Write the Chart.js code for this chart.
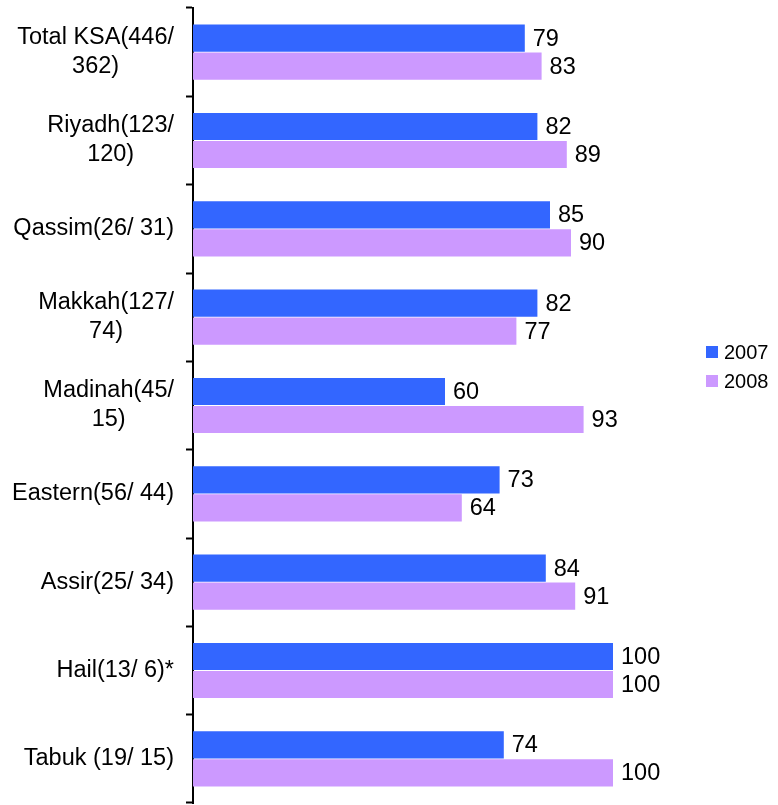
<!DOCTYPE html>
<html>
<head>
<meta charset="utf-8">
<script src="https://cdn.jsdelivr.net/npm/chart.js@4/dist/chart.umd.min.js"></script>
<style>
  html, body { margin: 0; padding: 0; background: #fff; }
  #wrap { width: 778px; height: 805px; }
</style>
</head>
<body>
<div id="wrap"><canvas id="chart" width="778" height="805"></canvas></div>
<script>
// Regions, with sample sizes (2007/ 2008) as two-line labels
const regions = [
    ['Total KSA(446/', '362)'],
    ['Riyadh(123/', '120)'],
    ['Qassim(26/ 31)'],
    ['Makkah(127/', '74)'],
    ['Madinah(45/', '15)'],
    ['Eastern(56/ 44)'],
    ['Assir(25/ 34)'],
    ['Hail(13/ 6)*'],
    ['Tabuk (19/ 15)']
];
const values2007 = [79, 82, 85, 82, 60, 73, 84, 100, 74];
const values2008 = [83, 89, 90, 77, 93, 64, 91, 100, 100];
const seriesNames = ['2007', '2008'];
const seriesColors = ['#3366FF', '#CC99FF'];

const FONT = '"Liberation Sans", Arial, Helvetica, sans-serif';

// draws the region labels (right-aligned block, centred lines), the value labels and the legend
const extras = {
    id: 'extras',
    afterDraw(chart) {
        const ctx = chart.ctx;
        const yScale = chart.scales.y;
        ctx.save();
        ctx.fillStyle = '#000';
        ctx.textBaseline = 'middle';

        // category labels
        ctx.font = '23.5px ' + FONT;
        ctx.textAlign = 'center';
        const right = 174;
        const lineH = 29;
        regions.forEach((lines, i) => {
            const cy = yScale.getPixelForValue(i);
            const w = Math.max(...lines.map(l => ctx.measureText(l).width));
            const cx = right - w / 2;
            lines.forEach((l, k) => {
                ctx.fillText(l, cx, cy + (k - (lines.length - 1) / 2) * lineH);
            });
        });

        // value labels at the end of each bar
        ctx.textAlign = 'left';
        chart.data.datasets.forEach((ds, di) => {
            chart.getDatasetMeta(di).data.forEach((bar, i) => {
                ctx.fillText(String(ds.data[i]), bar.x + 8, bar.y + 1);
            });
        });

        // legend
        ctx.font = '20px ' + FONT;
        chart.data.datasets.forEach((ds, di) => {
            const y = 352 + di * 29;
            ctx.fillStyle = ds.backgroundColor;
            ctx.fillRect(706, y - 6, 12, 12);
            ctx.fillStyle = '#000';
            ctx.fillText(ds.label, 724, y + 1);
        });
        ctx.restore();
    }
};

new Chart(document.getElementById('chart'), {
    type: 'bar',
    data: {
        labels: regions,
        datasets: [
            { label: seriesNames[0], data: values2007, backgroundColor: seriesColors[0] },
            { label: seriesNames[1], data: values2008, backgroundColor: seriesColors[1] }
        ]
    },
    options: {
        indexAxis: 'y',
        responsive: false,
        animation: false,
        layout: { padding: { top: 8, right: 165, bottom: 2, left: 0 } },
        datasets: {
            bar: { categoryPercentage: 0.634, barPercentage: 0.97 }
        },
        plugins: {
            legend: { display: false },
            tooltip: { enabled: false }
        },
        scales: {
            x: {
                display: false,
                min: 0,
                max: 100
            },
            y: {
                afterFit: s => { s.width = 193; },
                ticks: { display: false },
                grid: {
                    offset: true,
                    drawOnChartArea: false,
                    drawTicks: true,
                    tickLength: 7,
                    tickWidth: 2,
                    tickColor: '#000'
                },
                border: { display: true, color: '#000', width: 2 }
            }
        }
    },
    plugins: [extras]
});
</script>
</body>
</html>
